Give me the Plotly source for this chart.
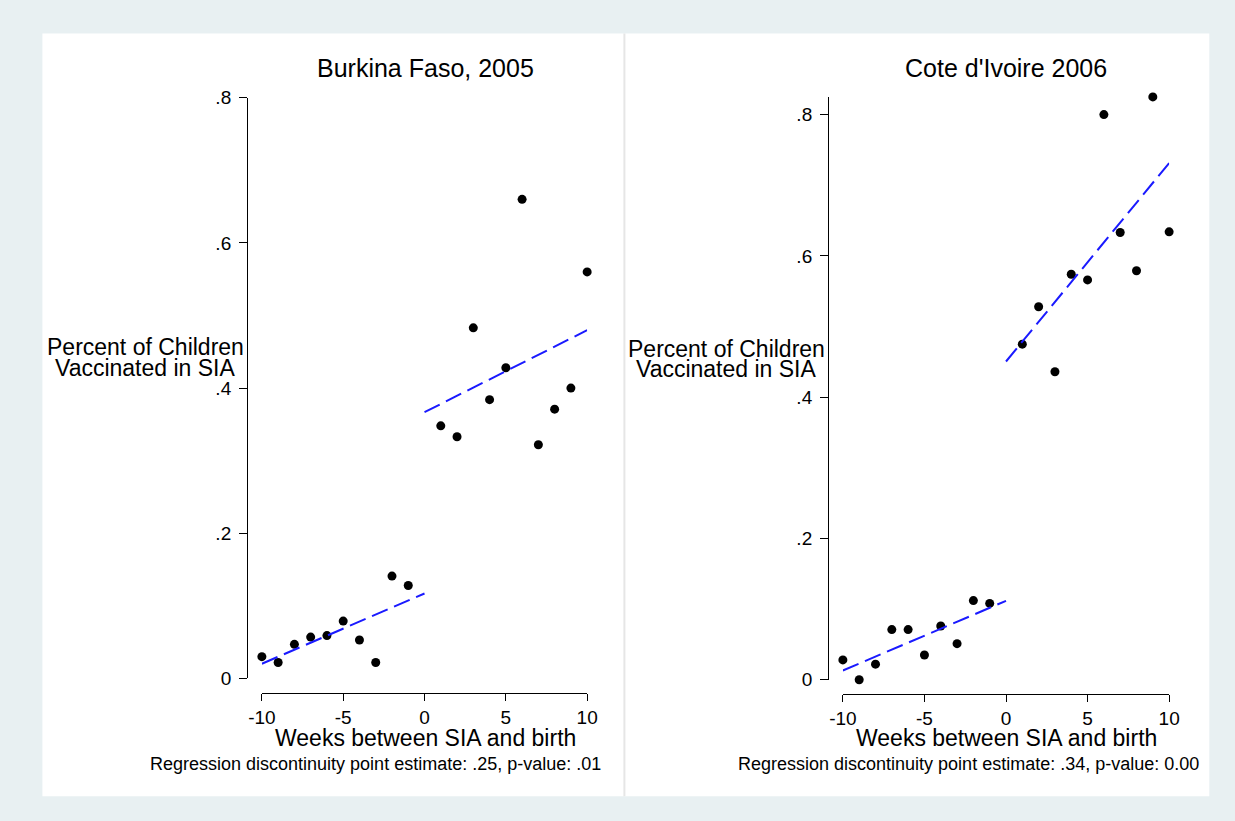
import numpy as np
import plotly.graph_objects as go

# ---------------- data ----------------
weeks_pre = [-10, -9, -8, -7, -6, -5, -4, -3, -2, -1]
weeks_post = [1, 2, 3, 4, 5, 6, 7, 8, 9, 10]

bf_pre = [0.030, 0.022, 0.047, 0.057, 0.059, 0.079, 0.053, 0.022, 0.141, 0.128]
bf_post = [0.348, 0.333, 0.483, 0.384, 0.428, 0.660, 0.322, 0.371, 0.400, 0.560]

ci_pre = [0.028, 0.000, 0.022, 0.071, 0.071, 0.035, 0.076, 0.051, 0.112, 0.108]
ci_post = [0.475, 0.528, 0.436, 0.574, 0.566, 0.800, 0.633, 0.579, 0.825, 0.634]

titles = ["Burkina Faso, 2005", "Cote d'Ivoire 2006"]
notes = ["Regression discontinuity point estimate: .25, p-value: .01",
         "Regression discontinuity point estimate: .34, p-value: 0.00"]
x_title = "Weeks between SIA and birth"
y_title_lines = ["Percent of Children", "Vaccinated in SIA"]
x_ticks = [-10, -5, 0, 5, 10]
x_ticktext = ["-10", "-5", "0", "5", "10"]
y_ticks = [0, 0.2, 0.4, 0.6, 0.8]
y_ticktext = ["0", ".2", ".4", ".6", ".8"]

# ---------------- layout helpers ----------------
W, H = 1235, 821
FONT = "Liberation Sans, Arial, Helvetica, sans-serif"


def px(x):
    return x / W


def py(y):
    return 1 - y / H


BLUE = "#1a1aff"

fig = go.Figure()


def fit_line(xs, ys, x_ends):
    b, a = np.polyfit(xs, ys, 1)
    return [a + b * x for x in x_ends]


panels = [
    dict(pre=bf_pre, post=bf_post, xa="x", ya="y"),
    dict(pre=ci_pre, post=ci_post, xa="x2", ya="y2"),
]

for p in panels:
    fig.add_trace(go.Scatter(
        x=weeks_pre + weeks_post, y=p["pre"] + p["post"], mode="markers",
        marker=dict(color="black", size=9), xaxis=p["xa"], yaxis=p["ya"],
        cliponaxis=False, showlegend=False))
    for xs, ys, ends in [(weeks_pre, p["pre"], [-10, 0]), (weeks_post, p["post"], [0, 10])]:
        fig.add_trace(go.Scatter(
            x=ends, y=fit_line(xs, ys, ends), mode="lines",
            line=dict(color=BLUE, width=2, dash="17px,7px"),
            xaxis=p["xa"], yaxis=p["ya"], cliponaxis=False, showlegend=False))

axis_common = dict(showgrid=False, zeroline=False, showline=True,
                   linecolor="black", linewidth=1.3, ticks="outside",
                   tickcolor="black", tickwidth=1.3,
                   tickfont=dict(family=FONT, size=19, color="black"))

fig.update_layout(
    width=W, height=H,
    margin=dict(l=0, r=0, t=0, b=0),
    paper_bgcolor="#e8f0f2",
    plot_bgcolor="rgba(0,0,0,0)",
    font=dict(family=FONT, color="black"),
    showlegend=False,
    xaxis=dict(domain=[px(253), px(585)], range=[-10, 10], anchor="free",
               position=py(701), tickvals=x_ticks, ticktext=x_ticktext,
               ticklen=7, **axis_common),
    yaxis=dict(domain=[py(686), py(90)], range=[0, 0.8], anchor="free",
               position=px(238), tickvals=y_ticks, ticktext=y_ticktext,
               ticklen=8, ticklabelstandoff=4, **axis_common),
    xaxis2=dict(domain=[px(846), px(1179)], range=[-10, 10], anchor="free",
                position=py(702), tickvals=x_ticks, ticktext=x_ticktext,
                ticklen=7, **axis_common),
    yaxis2=dict(domain=[py(687.3), py(89.2)], range=[0, 0.825], anchor="free",
                position=px(831), tickvals=y_ticks, ticktext=y_ticktext,
                ticklen=8, ticklabelstandoff=4, **axis_common),
)

shapes = [
    dict(type="rect", xref="paper", yref="paper", x0=px(29), x1=px(1220),
         y0=py(807), y1=py(24), fillcolor="white", line=dict(width=0), layer="below"),
    dict(type="line", xref="paper", yref="paper", x0=px(623), x1=px(623),
         y0=py(807), y1=py(24), line=dict(color="#e6e6e6", width=2), layer="below"),
]
fig.update_layout(shapes=shapes)

ann = []
# titles
for t, cx in zip(titles, [420, 1013]):
    ann.append(dict(text=t, x=px(cx), y=py(60), xref="paper", yref="paper",
                    xanchor="center", yanchor="middle", showarrow=False,
                    font=dict(size=25, family=FONT, color="black")))
# x titles
for cx in [420, 1013]:
    ann.append(dict(text=x_title, x=px(cx), y=py(747), xref="paper", yref="paper",
                    xanchor="center", yanchor="middle", showarrow=False,
                    font=dict(size=23, family=FONT, color="black")))
# y titles (horizontal, two lines)
for cx, ys in [(134, [346, 367]), (727, [348, 368])]:
    for line, yy in zip(y_title_lines, ys):
        ann.append(dict(text=line, x=px(cx), y=py(yy), xref="paper", yref="paper",
                        xanchor="center", yanchor="middle", showarrow=False,
                        font=dict(size=23, family=FONT, color="black")))
# notes
for n, rx in zip(notes, [601, 1212]):
    ann.append(dict(text=n, x=px(rx), y=py(773.5), xref="paper", yref="paper",
                    xanchor="right", yanchor="middle", showarrow=False,
                    font=dict(size=18, family=FONT, color="black")))
fig.update_layout(annotations=ann)

fig.write_html(
    "out.html",
    config={"displayModeBar": False},
    post_script="document.body.style.margin='0px';document.body.style.overflow='hidden';",
)
